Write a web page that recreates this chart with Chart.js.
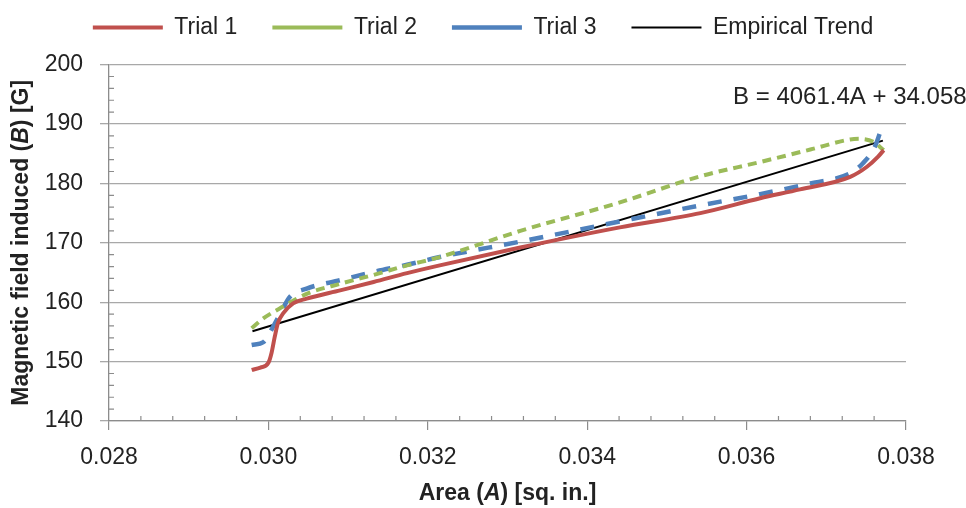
<!DOCTYPE html>
<html>
<head>
<meta charset="utf-8">
<script src="https://cdn.jsdelivr.net/npm/chart.js@4.4.1/dist/chart.umd.min.js"></script>
<style>
  html, body { margin: 0; padding: 0; background: #ffffff; }
  #wrap { width: 966px; height: 508px; position: relative; }
</style>
</head>
<body>
<div id="wrap"><canvas id="c"></canvas></div>
<script>
// ---- data ----
const seriesNames = ['Trial 1', 'Trial 2', 'Trial 3', 'Empirical Trend'];

const trial1A = [0.02979, 0.02990, 0.03000, 0.03004, 0.03008, 0.03012, 0.03019, 0.03031, 0.03048, 0.03090, 0.03132, 0.03174, 0.03215, 0.03316, 0.03441, 0.03542, 0.03617, 0.03667, 0.03730, 0.03751, 0.03765, 0.03772];
const trial1B = [148.6, 149.0, 149.8, 151.5, 154.2, 156.5, 158.2, 159.8, 160.6, 162.0, 163.4, 164.9, 166.2, 169.2, 172.6, 175.0, 177.5, 179.0, 181.1, 182.8, 184.5, 185.6];

const trial2A = [0.02979, 0.02994, 0.03019, 0.03048, 0.03090, 0.03132, 0.03174, 0.03215, 0.03316, 0.03441, 0.03542, 0.03617, 0.03680, 0.03730, 0.03742, 0.03759, 0.03772];
const trial2B = [155.6, 157.3, 159.3, 161.4, 163.1, 164.6, 166.2, 167.6, 172.0, 176.8, 181.2, 183.6, 185.7, 187.4, 187.5, 187.0, 185.6];

const trial3A = [0.02979, 0.02994, 0.03006, 0.03015, 0.03027, 0.03048, 0.03090, 0.03132, 0.03174, 0.03215, 0.03316, 0.03441, 0.03542, 0.03617, 0.03680, 0.03730, 0.03746, 0.03761, 0.03767, 0.03771];
const trial3B = [152.8, 153.3, 155.9, 158.1, 160.9, 162.3, 163.7, 165.1, 166.3, 167.6, 170.2, 173.6, 176.3, 178.2, 180.0, 181.7, 183.4, 186.2, 188.4, 190.2];

const trendA = [0.02980, 0.03771];
const trendB = [155.1, 187.2];

const equationText = 'B = 4061.4A + 34.058';
const equationAnchorA = 0.03583;
const equationAnchorB = 194.5;

const xMin = 0.028, xMax = 0.038, xStep = 0.002, xMinorStep = 0.0004;
const yMin = 140, yMax = 200, yStep = 10, yMinorStep = 2;

const xTitleParts = [['Area (', false], ['A', true], [') [sq. in.]', false]];
const yTitleParts = [['Magnetic field induced (', false], ['B', true], [') [G]', false]];

// ---- helpers ----
function pts(xs, ys) { return xs.map((x, i) => ({ x: x, y: ys[i] })); }

const FONT = "'Liberation Sans', Arial, sans-serif";
const AXIS_GRAY = '#8c8c8c';
const GRID_GRAY = '#a8a8a8';

function drawParts(ctx, parts, size, cx, cy) {
  let widths = parts.map(p => {
    ctx.font = (p[1] ? 'italic ' : '') + 'bold ' + size + 'px ' + FONT;
    return ctx.measureText(p[0]).width;
  });
  const total = widths.reduce((a, b) => a + b, 0);
  let x = cx - total / 2;
  ctx.textBaseline = 'middle';
  ctx.textAlign = 'left';
  parts.forEach((p, i) => {
    ctx.font = (p[1] ? 'italic ' : '') + 'bold ' + size + 'px ' + FONT;
    ctx.fillText(p[0], x, cy);
    x += widths[i];
  });
}

const extras = {
  id: 'extras',
  beforeDatasetsDraw(chart) {
    const ctx = chart.ctx;
    const xs = chart.scales.x, ys = chart.scales.y;
    ctx.save();
    ctx.strokeStyle = AXIS_GRAY;
    ctx.lineWidth = 1.2;
    ctx.beginPath();
    const nY = Math.round((yMax - yMin) / yMinorStep);
    for (let i = 1; i < nY; i++) {
      if (i % Math.round(yStep / yMinorStep) === 0) continue;
      const py = ys.getPixelForValue(yMin + i * yMinorStep);
      ctx.moveTo(ys.right, py);
      ctx.lineTo(ys.right + 5, py);
    }
    const nX = Math.round((xMax - xMin) / xMinorStep);
    for (let i = 1; i < nX; i++) {
      if (i % Math.round(xStep / xMinorStep) === 0) continue;
      const px = xs.getPixelForValue(xMin + i * xMinorStep);
      ctx.moveTo(px, xs.top);
      ctx.lineTo(px, xs.top - 5);
    }
    ctx.stroke();
    ctx.restore();
  },
  afterDraw(chart) {
    const ctx = chart.ctx;
    const xs = chart.scales.x, ys = chart.scales.y;
    const area = chart.chartArea;
    ctx.save();
    ctx.fillStyle = '#222222';
    // equation label
    ctx.font = '24px ' + FONT;
    ctx.textAlign = 'left';
    ctx.textBaseline = 'middle';
    ctx.fillText(equationText, xs.getPixelForValue(equationAnchorA), ys.getPixelForValue(equationAnchorB));
    // x title
    drawParts(ctx, xTitleParts, 23, (area.left + area.right) / 2, 494);
    // y title
    ctx.translate(22, (area.top + area.bottom) / 2);
    ctx.rotate(-Math.PI / 2);
    drawParts(ctx, yTitleParts, 23, 0, 0);
    ctx.restore();
  }
};

const ctx = document.getElementById('c').getContext('2d');
new Chart(ctx, {
  type: 'scatter',
  data: {
    datasets: [
      { label: seriesNames[0], data: pts(trial1A, trial1B), showLine: true, borderColor: '#C0504D', backgroundColor: '#C0504D', borderWidth: 4, pointRadius: 0, cubicInterpolationMode: 'monotone' },
      { label: seriesNames[1], data: pts(trial2A, trial2B), showLine: true, borderColor: '#9BBB59', backgroundColor: '#9BBB59', borderWidth: 4, borderDash: [9, 6], pointRadius: 0, cubicInterpolationMode: 'monotone' },
      { label: seriesNames[2], data: pts(trial3A, trial3B), showLine: true, borderColor: '#4F81BD', backgroundColor: '#4F81BD', borderWidth: 4.5, borderDash: [14, 12], pointRadius: 0, cubicInterpolationMode: 'monotone' },
      { label: seriesNames[3], data: pts(trendA, trendB), showLine: true, borderColor: '#000000', backgroundColor: '#000000', borderWidth: 2, pointRadius: 0 }
    ]
  },
  options: {
    responsive: true,
    maintainAspectRatio: false,
    animation: false,
    layout: { padding: { top: -19, left: 0, right: 0, bottom: 0 } },
    plugins: {
      legend: {
        position: 'top',
        labels: {
          usePointStyle: true,
          pointStyle: 'line',
          pointStyleWidth: 70,
          padding: 35,
          color: '#222222',
          font: { family: FONT, size: 23, lineHeight: 1 }
        }
      },
      tooltip: { enabled: false }
    },
    scales: {
      x: {
        type: 'linear',
        position: 'bottom',
        min: xMin, max: xMax,
        afterFit(s) { s.height = 87; },
        ticks: {
          stepSize: xStep,
          autoSkip: false,
          maxRotation: 0,
          padding: 14,
          color: '#222222',
          font: { family: FONT, size: 23 },
          callback: v => Number(v).toFixed(3)
        },
        grid: { drawOnChartArea: false, drawTicks: true, tickLength: 9, color: AXIS_GRAY, lineWidth: 1.2 },
        border: { color: AXIS_GRAY, width: 1.3 }
      },
      x2: {
        type: 'linear',
        position: 'top',
        display: true,
        afterFit(s) { s.height = 15.6; },
        ticks: { display: false },
        grid: { display: false },
        border: { display: false }
      },
      y: {
        type: 'linear',
        position: 'left',
        min: yMin, max: yMax,
        afterFit(s) { s.width = 109; },
        ticks: {
          stepSize: yStep,
          padding: 17,
          color: '#222222',
          font: { family: FONT, size: 23 }
        },
        grid: { color: GRID_GRAY, lineWidth: 1.3, tickLength: 9, drawTicks: true },
        border: { color: AXIS_GRAY, width: 1.3 }
      },
      y2: {
        type: 'linear',
        position: 'right',
        display: true,
        afterFit(s) { s.width = 60; },
        ticks: { display: false },
        grid: { display: false },
        border: { display: false }
      }
    }
  },
  plugins: [extras]
});
</script>
</body>
</html>
